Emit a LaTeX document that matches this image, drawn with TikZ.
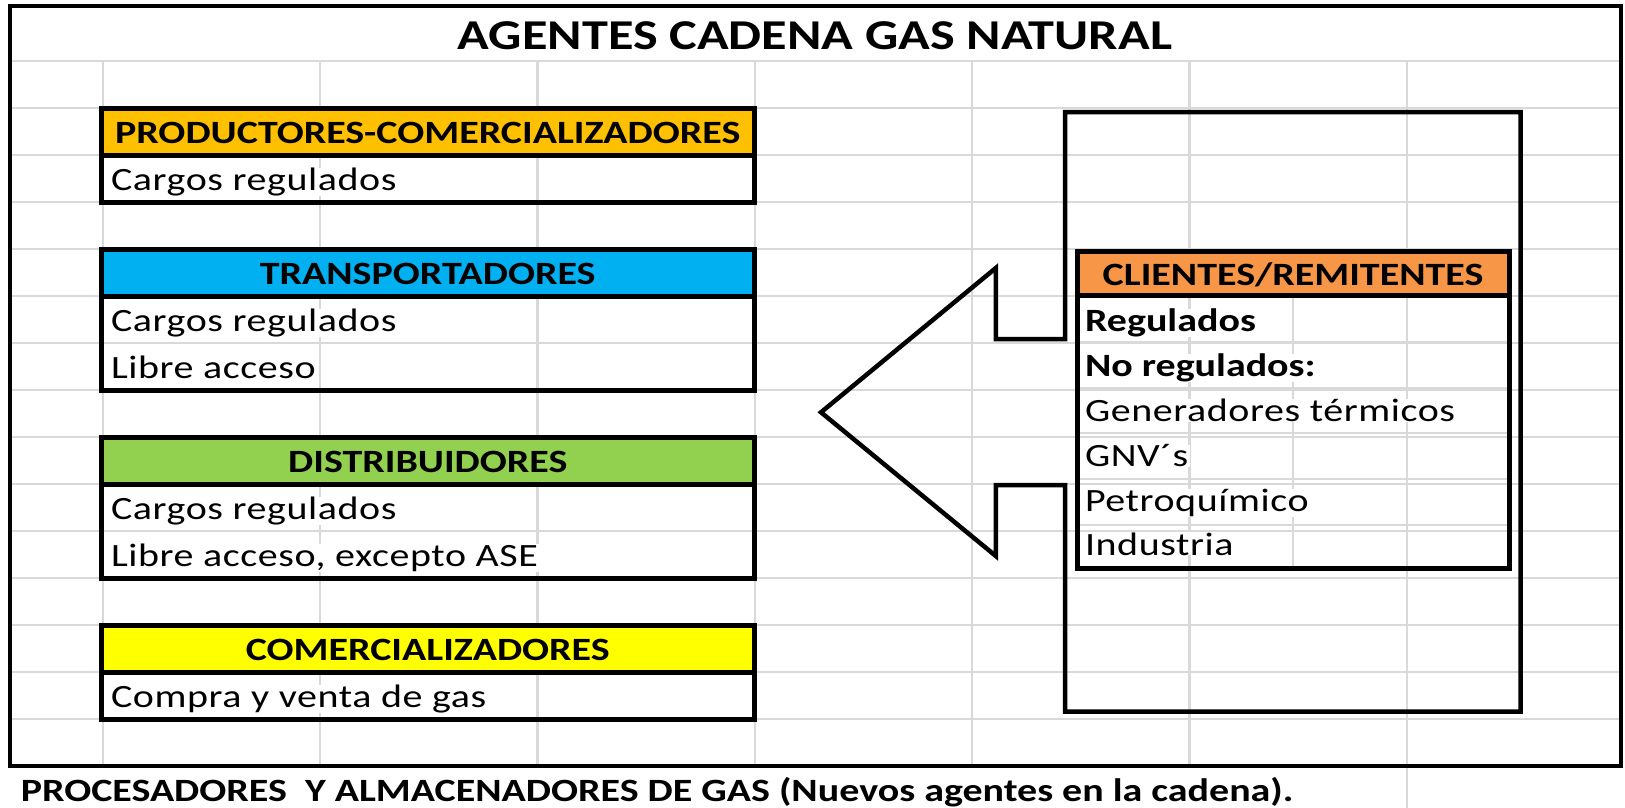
\documentclass[tikz,border=0pt]{standalone}
\usepackage{fontspec}
\setmainfont{Carlito}[FakeStretch=1.23]
\newfontfamily\cellfont{Carlito}[FakeStretch=1.23, LetterSpace=1.8]
\usetikzlibrary{calc}
\definecolor{gridgray}{HTML}{D9D9D9}
\definecolor{hdrgold}{HTML}{FFC000}
\definecolor{hdrblue}{HTML}{00B0F0}
\definecolor{hdrgreen}{HTML}{92D050}
\definecolor{hdryellow}{HTML}{FFFF00}
\definecolor{hdrorange}{HTML}{F79646}
\tikzset{
  sheetline/.style={draw=gridgray, line width=2.3pt},
  sheetframe/.style={draw=black, line width=4pt},
  tblborder/.style={draw=black, line width=5pt},
  calloutline/.style={draw=black, line width=4.5pt, line join=miter},
  hdrcell/.style={anchor=north west, inner sep=0pt, outer sep=0pt, minimum width=653.5pt, minimum height=47pt,
    text height=24pt, text depth=1pt, font=\bfseries\fontsize{32.5}{39}\selectfont},
  bodytxt/.style={anchor=base west, fill=white, inner xsep=2pt, inner ysep=0pt, outer sep=0pt,
    font=\cellfont\fontsize{32.5}{39}\selectfont},
  boldtxt/.style={bodytxt, font=\bfseries\fontsize{32.5}{39}\selectfont},
  titletxt/.style={anchor=base, inner sep=0pt, font=\bfseries\fontsize{42.5}{50}\selectfont},
  notetxt/.style={anchor=base west, inner sep=0pt, font=\bfseries\fontsize{32.5}{39}\selectfont},
}
\begin{document}
\begin{tikzpicture}[x=1pt,y=-1pt]
\fill[white] (0,0) rectangle (1625,808);
\useasboundingbox (0,0) rectangle (1625,808);
% sheet grid
\foreach \k in {0,...,14} \draw[sheetline] (10,{61+47*\k}) -- (1620.5,{61+47*\k});
\foreach \x in {103,320.3,537.6,754.9,972.2,1189.5,1406.8} \draw[sheetline] (\x,61) -- (\x,766);
\draw[sheetline] (1406.8,766) -- (1406.8,808);
\draw[sheetframe] (10.3,5.7) rectangle (1620.5,766);
% title
\node[titletxt] (title) at (815,49.5) {AGENTES CADENA GAS NATURAL};
% callout arrow
\draw[calloutline] (1065,112) -- (1520.5,112) -- (1520.5,711.7) -- (1065,711.7) -- (1065,485)
  -- (995.8,485) -- (995.8,556) -- (821,412.3) -- (995.8,268) -- (995.8,339) -- (1065,339) -- cycle;
% headers
\node[hdrcell, fill=hdrgold] (pch) at (101,108) {PRODUCTORES-COMERCIALIZADORES};
\node[hdrcell, fill=hdrblue] (trh) at (101,249) {TRANSPORTADORES};
\node[hdrcell, fill=hdrgreen] (dih) at (101,437) {DISTRIBUIDORES};
\node[hdrcell, fill=hdryellow] (coh) at (101,625) {COMERCIALIZADORES};
\node[hdrcell, fill=hdrorange, minimum width=432pt, minimum height=44pt, text height=23.6pt] (clh) at (1077,251.7) {CLIENTES/REMITENTES};
% right table inner lines
\foreach \y in {341.7,388.3,432.7,479.3,525} \draw[sheetline] (1077,\y) -- (1509,\y);
\draw[sheetline] (1293.3,295.6) -- (1293.3,568);
% body texts left
\node[bodytxt] (pc1) at (109,190.5) {Cargos regulados};
\node[bodytxt] (tr1) at (109,331.5) {Cargos regulados};
\node[bodytxt] (tr2) at (109,378.5) {Libre acceso};
\node[bodytxt] (di1) at (109,519.5) {Cargos regulados};
\node[bodytxt] (di2) at (109,566.5) {Libre acceso, excepto ASE};
\node[bodytxt] (co1) at (109,707.5) {Compra y venta de gas};
% body texts right
\node[boldtxt] (cl1) at (1083,331.7) {Regulados};
\node[boldtxt] (cl2) at (1083,376.7) {No regulados:};
\node[bodytxt] (cl3) at (1083,421.7) {Generadores térmicos};
\node[bodytxt] (cl4) at (1083,466.7) {GNV´s};
\node[bodytxt] (cl5) at (1083,511.7) {Petroquímico};
\node[bodytxt] (cl6) at (1083,555) {Industria};
% table borders
\draw[tblborder] (pch.north west) rectangle (754.5,202);
\draw[tblborder] (pch.south west) -- (pch.south east);
\draw[tblborder] (trh.north west) rectangle (754.5,390);
\draw[tblborder] (trh.south west) -- (trh.south east);
\draw[tblborder] (dih.north west) rectangle (754.5,578);
\draw[tblborder] (dih.south west) -- (dih.south east);
\draw[tblborder] (coh.north west) rectangle (754.5,719);
\draw[tblborder] (coh.south west) -- (coh.south east);
\draw[tblborder] (clh.north west) rectangle (1509,568);
\draw[tblborder] (clh.south west) -- (clh.south east);
% note
\node[notetxt] (note) at (20.7,801.5) {PROCESADORES\ \ Y ALMACENADORES DE GAS (Nuevos agentes en la cadena).};
\end{tikzpicture}
\end{document}
